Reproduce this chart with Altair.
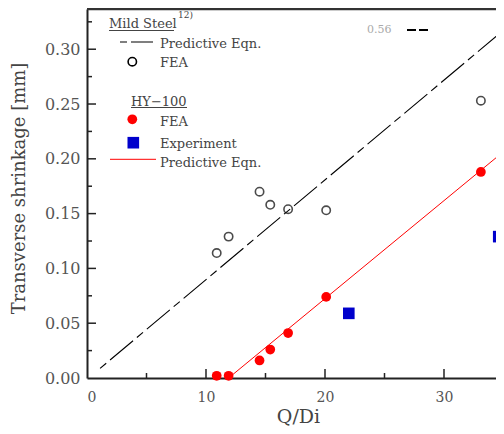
import altair as alt
import pandas as pd

# ---- data ----
ms_fea_x = [10.9, 11.9, 14.5, 15.4, 16.9, 20.1, 33.1]
ms_fea_y = [0.114, 0.129, 0.170, 0.158, 0.154, 0.153, 0.253]
hy_fea_x = [10.9, 11.9, 14.5, 15.4, 16.9, 20.1, 33.1]
hy_fea_y = [0.002, 0.002, 0.016, 0.026, 0.041, 0.074, 0.188]
exp_x = [22.0, 34.6]
exp_y = [0.059, 0.129]
ms_eq_x = [1.1, 36.0]
ms_eq_y = [0.0088, 0.3264]
hy_eq_x = [11.9, 36.0]
hy_eq_y = [0.0, 0.2155]

x_major = [0, 10, 20, 30]
x_minor = [5, 15, 25]
y_major = [0.00, 0.05, 0.10, 0.15, 0.20, 0.25, 0.30]
y_minor = [0.025, 0.075, 0.125, 0.175, 0.225, 0.275, 0.325]

X_MAX = 34.37
Y_MAX = 0.3367
W, H = 409, 369
FONT = "DejaVu Serif"
TXT = "#444444"

xs = alt.Scale(domain=[0, X_MAX], nice=False, zero=False)
ys = alt.Scale(domain=[0, Y_MAX], nice=False, zero=False)

def df(x, y):
    return pd.DataFrame({"x": x, "y": y})

X = alt.X("x:Q", scale=xs, axis=alt.Axis(
    values=x_major, format="d", title="Q/Di", ticks=False, tickSize=0, grid=False,
    labelFont=FONT, labelFontSize=14, labelColor="#555555", labelPadding=12,
    titleFont=FONT, titleFontSize=19, titleFontWeight="normal", titleColor=TXT,
    titleX=211, titleY=44, titleBaseline="alphabetic",
    domainColor="#222222", domainWidth=2))
Y = alt.Y("y:Q", scale=ys, axis=alt.Axis(
    values=y_major, format=".2f", title="Transverse shrinkage [mm]", ticks=False,
    tickSize=0, grid=False,
    labelFont=FONT, labelFontSize=16, labelColor="#555555", labelPadding=7,
    titleFont=FONT, titleFontSize=18, titleFontWeight="normal", titleColor=TXT,
    titleX=-68, titleY=179, titleBaseline="middle", titleAngle=-90,
    domainColor="#222222", domainWidth=2))

base_axes = alt.Chart(df(ms_fea_x, ms_fea_y)).mark_point(opacity=0).encode(x=X, y=Y)

ms_line = alt.Chart(df(ms_eq_x, ms_eq_y)).mark_line(
    color="black", strokeWidth=1.1, strokeDash=[8, 5, 30, 5]).encode(
    x=alt.X("x:Q", scale=xs), y=alt.Y("y:Q", scale=ys))
hy_line = alt.Chart(df(hy_eq_x, hy_eq_y)).mark_line(
    color="#ff0000", strokeWidth=1).encode(
    x=alt.X("x:Q", scale=xs), y=alt.Y("y:Q", scale=ys))
ms_pts = alt.Chart(df(ms_fea_x, ms_fea_y)).mark_point(
    shape="circle", filled=False, color="black", size=70, strokeWidth=1.6).encode(
    x=alt.X("x:Q", scale=xs), y=alt.Y("y:Q", scale=ys))
hy_pts = alt.Chart(df(hy_fea_x, hy_fea_y)).mark_point(
    shape="circle", filled=True, color="#ff0000", size=95, opacity=1).encode(
    x=alt.X("x:Q", scale=xs), y=alt.Y("y:Q", scale=ys))
exp_pts = alt.Chart(df(exp_x, exp_y)).mark_point(
    shape="square", filled=True, color="#0000cc", size=135, opacity=1).encode(
    x=alt.X("x:Q", scale=xs), y=alt.Y("y:Q", scale=ys))

# inward ticks
def yt(vals, length):
    return alt.Chart(pd.DataFrame({"y": vals})).mark_rule(color="#222222", strokeWidth=1.5).encode(
        y=alt.Y("y:Q", scale=ys), x=alt.value(0), x2=alt.value(length))
def xt(vals, length):
    return alt.Chart(pd.DataFrame({"x": vals})).mark_rule(color="#222222", strokeWidth=1.5).encode(
        x=alt.X("x:Q", scale=xs), y=alt.value(H), y2=alt.value(H - length))

top_border = alt.Chart(pd.DataFrame({"y": [Y_MAX]})).mark_rule(color="#333333", strokeWidth=2.5).encode(
    y=alt.Y("y:Q", scale=ys), x=alt.value(0), x2=alt.value(W))

one = alt.Data(values=[{}])
def txt(s, x, y, size=13, color=TXT):
    return alt.Chart(one).mark_text(text=s, font=FONT, fontSize=size, color=color,
                                    align="left", baseline="alphabetic").encode(
        x=alt.value(x), y=alt.value(y))
def seg(x1, x2, y, color, width=1.0, dash=None):
    kw = dict(color=color, strokeWidth=width)
    if dash:
        kw["strokeDash"] = dash
    return alt.Chart(one).mark_rule(**kw).encode(x=alt.value(x1), x2=alt.value(x2), y=alt.value(y))
def sym(x, y, shape, color, filled, size, sw=1.6):
    return alt.Chart(one).mark_point(shape=shape, filled=filled, color=color, size=size,
                                     strokeWidth=sw, opacity=1).encode(x=alt.value(x), y=alt.value(y))

legend = [
    txt("Mild Steel", 22, 19),
    seg(22, 87, 21.5, TXT, 1.2),
    txt("12)", 91, 9, size=9),
    seg(33, 66, 33, "black", 1.2, [7, 4, 23, 4]),
    txt("Predictive Eqn.", 73, 39),
    sym(45.3, 52.7, "circle", "black", False, 70),
    txt("FEA", 73, 57.5),
    txt("HY\u2212100", 44, 96.5),
    seg(44, 100, 98.5, TXT, 1.2),
    sym(45.3, 110.3, "circle", "#ff0000", True, 95),
    txt("FEA", 73, 117),
    sym(46.3, 133.7, "square", "#0000cc", True, 135),
    txt("Experiment", 73, 139),
    seg(23, 69, 150.3, "#ff0000", 1.0),
    txt("Predictive Eqn.", 73, 157.5),
    txt("0.56", 280, 24, size=11, color="#aaaaaa"),
    seg(320, 341, 21, "black", 2.0, [9, 3]),
]

chart = alt.layer(
    base_axes, xt(x_major[1:], 9), xt(x_minor, 5), yt(y_major[1:], 9), yt(y_minor, 5),
    top_border, ms_line, hy_line, ms_pts, hy_pts, exp_pts, *legend
).properties(
    width=W, height=H, autosize="none",
    padding={"left": 79, "top": 1, "right": 0, "bottom": 48},
    background="white",
).configure_view(stroke=None)

chart.save("out.html", embed_options={"renderer": "svg", "actions": False})
